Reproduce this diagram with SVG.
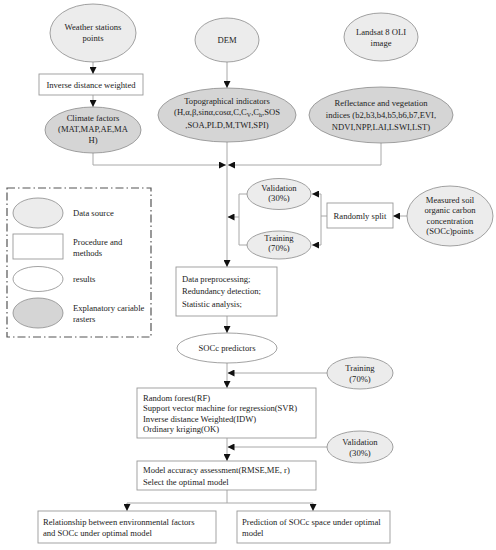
<svg xmlns="http://www.w3.org/2000/svg" width="496" height="550" viewBox="0 0 496 550">
<style>
text{font-family:"Liberation Serif","Times New Roman",serif;font-size:8.6px;fill:#222;}
.c{text-anchor:middle;}
.src{fill:#ececec;stroke:#8a8a8a;stroke-width:0.8;}
.ras{fill:#d5d5d5;stroke:#8a8a8a;stroke-width:0.8;}
.res{fill:#fff;stroke:#8a8a8a;stroke-width:0.8;}
.box{fill:#fff;stroke:#999;stroke-width:0.9;}
.ln{fill:none;stroke:#a8a8a8;stroke-width:1;}
.sub{font-size:6px;}
</style>
<defs>
<marker id="ah" viewBox="0 0 8 8" refX="8" refY="4" markerWidth="7" markerHeight="7" markerUnits="userSpaceOnUse" orient="auto">
<path d="M0,0 L8,4 L0,8 Z" fill="#111"/>
</marker>
</defs>
<rect width="496" height="550" fill="#fff"/>

<g id="connectors">
<path class="ln" d="M93,62 V74" marker-end="url(#ah)"/>
<path class="ln" d="M93,95 V107" marker-end="url(#ah)"/>
<path class="ln" d="M93,153 V165 H226" marker-end="url(#ah)"/>
<path class="ln" d="M227,62 V88" marker-end="url(#ah)"/>
<path class="ln" d="M227,142 V267" marker-end="url(#ah)"/>
<path class="ln" d="M381,143 V165 H228" marker-end="url(#ah)"/>
<path class="ln" d="M247,194 H239 V245 H248"/>
<path class="ln" d="M239,217 H227.5" marker-end="url(#ah)"/>
<path class="ln" d="M327,216 H321"/>
<path class="ln" d="M321,194 V245"/>
<path class="ln" d="M321,194 H312" marker-end="url(#ah)"/>
<path class="ln" d="M321,245 H312" marker-end="url(#ah)"/>
<path class="ln" d="M407,216 H393" marker-end="url(#ah)"/>
<path class="ln" d="M227,316 V333" marker-end="url(#ah)"/>
<path class="ln" d="M227,363 V388" marker-end="url(#ah)"/>
<path class="ln" d="M328,373 H227.5" marker-end="url(#ah)"/>
<path class="ln" d="M227,438 V461" marker-end="url(#ah)"/>
<path class="ln" d="M328,447 H227.5" marker-end="url(#ah)"/>
<path class="ln" d="M227,490 V503 M127,503 H313"/>
<path class="ln" d="M127,503 V511" marker-end="url(#ah)"/>
<path class="ln" d="M313,503 V511" marker-end="url(#ah)"/>
</g>

<g id="weather">
<ellipse class="src" cx="93" cy="33" rx="43" ry="29"/>
<text class="c" x="93" y="30">Weather stations</text>
<text class="c" x="93" y="41">points</text>
</g>
<g id="idw">
<rect class="box" x="39" y="74" width="104" height="21"/>
<text class="c" x="91" y="87.5">Inverse distance weighted</text>
</g>
<g id="climate">
<ellipse class="ras" cx="93" cy="130" rx="48" ry="23"/>
<text class="c" x="93" y="121">Climate factors</text>
<text class="c" x="93" y="132">(MAT,MAP,AE,MA</text>
<text class="c" x="93" y="143">H)</text>
</g>
<g id="dem">
<ellipse class="src" cx="227" cy="40" rx="32" ry="22"/>
<text class="c" x="227" y="43">DEM</text>
</g>
<g id="topo">
<ellipse class="ras" cx="227" cy="115" rx="69" ry="27"/>
<text class="c" x="227" y="104">Topographical indicators</text>
<text class="c" x="227" y="115">(H,α,β,sinα,cosα,C,C<tspan class="sub" dy="1.5">V</tspan><tspan dy="-1.5">,C</tspan><tspan class="sub" dy="1.5">h</tspan><tspan dy="-1.5">,SOS</tspan></text>
<text class="c" x="227" y="128">,SOA,PLD,M,TWI,SPI)</text>
</g>
<g id="landsat">
<ellipse class="src" cx="381" cy="37" rx="37" ry="24"/>
<text class="c" x="381" y="35">Landsat 8 OLI</text>
<text class="c" x="381" y="46">image</text>
</g>
<g id="reflectance">
<ellipse class="ras" cx="381" cy="115" rx="72" ry="28"/>
<text class="c" x="381" y="106">Reflectance and vegetation</text>
<text class="c" x="381" y="118">indices (b2,b3,b4,b5,b6,b7,EVI,</text>
<text class="c" x="381" y="130">NDVI,NPP,LAI,LSWI,LST)</text>
</g>
<g id="validation1">
<ellipse class="src" cx="279" cy="194" rx="32" ry="15.5"/>
<text class="c" x="279" y="191">Validation</text>
<text class="c" x="279" y="201">(30%)</text>
</g>
<g id="training1">
<ellipse class="src" cx="279" cy="245" rx="32" ry="14"/>
<text class="c" x="279" y="241">Training</text>
<text class="c" x="279" y="251">(70%)</text>
</g>
<g id="split">
<rect class="box" x="327" y="203" width="66" height="25"/>
<text class="c" x="360" y="219">Randomly split</text>
</g>
<g id="measured">
<ellipse class="src" cx="450" cy="216" rx="43" ry="30"/>
<text class="c" x="450" y="202.5">Measured soil</text>
<text class="c" x="450" y="213">organic carbon</text>
<text class="c" x="450" y="223.5">concentration</text>
<text class="c" x="450" y="234">(SOCc)points</text>
</g>
<g id="legend">
<rect x="7" y="188" width="144" height="149" fill="none" stroke="#555" stroke-width="1.2" stroke-dasharray="8,3,1.5,3"/>
<ellipse class="src" cx="38" cy="213" rx="25" ry="15"/>
<text x="73" y="216">Data source</text>
<rect class="box" x="13" y="234" width="50" height="25"/>
<text x="73" y="245">Procedure and</text>
<text x="73" y="255.5">methods</text>
<ellipse class="res" cx="38" cy="279" rx="25" ry="12.5"/>
<text x="73" y="282">results</text>
<ellipse class="ras" cx="38" cy="313" rx="25" ry="15"/>
<text x="73" y="311">Explanatory cariable</text>
<text x="73" y="322">rasters</text>
</g>
<g id="preprocessing">
<rect class="box" x="176" y="267" width="101" height="49"/>
<text x="182" y="281.5">Data preprocessing;</text>
<text x="182" y="294">Redundancy detection;</text>
<text x="182" y="306.5">Statistic analysis;</text>
</g>
<g id="predictors">
<ellipse class="res" cx="227" cy="348" rx="50" ry="15"/>
<text class="c" x="227" y="351">SOCc predictors</text>
</g>
<g id="training2">
<ellipse class="src" cx="360" cy="373" rx="33" ry="16"/>
<text class="c" x="360" y="371">Training</text>
<text class="c" x="360" y="381.5">(70%)</text>
</g>
<g id="models">
<rect class="box" x="137" y="388" width="179" height="50"/>
<text x="143" y="400.5">Random forest(RF)</text>
<text x="143" y="411">Support vector machine for regression(SVR)</text>
<text x="143" y="421.5">Inverse distance Weighted(IDW)</text>
<text x="143" y="432">Ordinary kriging(OK)</text>
</g>
<g id="validation2">
<ellipse class="src" cx="360" cy="447" rx="33" ry="16"/>
<text class="c" x="360" y="445">Validation</text>
<text class="c" x="360" y="455.5">(30%)</text>
</g>
<g id="assessment">
<rect class="box" x="137" y="461" width="179" height="29"/>
<text x="143" y="473">Model accuracy assessment(RMSE,ME, r)</text>
<text x="143" y="484.5">Select the optimal model</text>
</g>
<g id="relationship">
<rect class="box" x="38" y="511" width="178" height="32"/>
<text x="43" y="525">Relationship between environmental factors</text>
<text x="43" y="536">and SOCc under optimal model</text>
</g>
<g id="prediction">
<rect class="box" x="237" y="511" width="153" height="32"/>
<text x="242" y="525">Prediction of SOCc space under optimal</text>
<text x="242" y="536">model</text>
</g>
</svg>
